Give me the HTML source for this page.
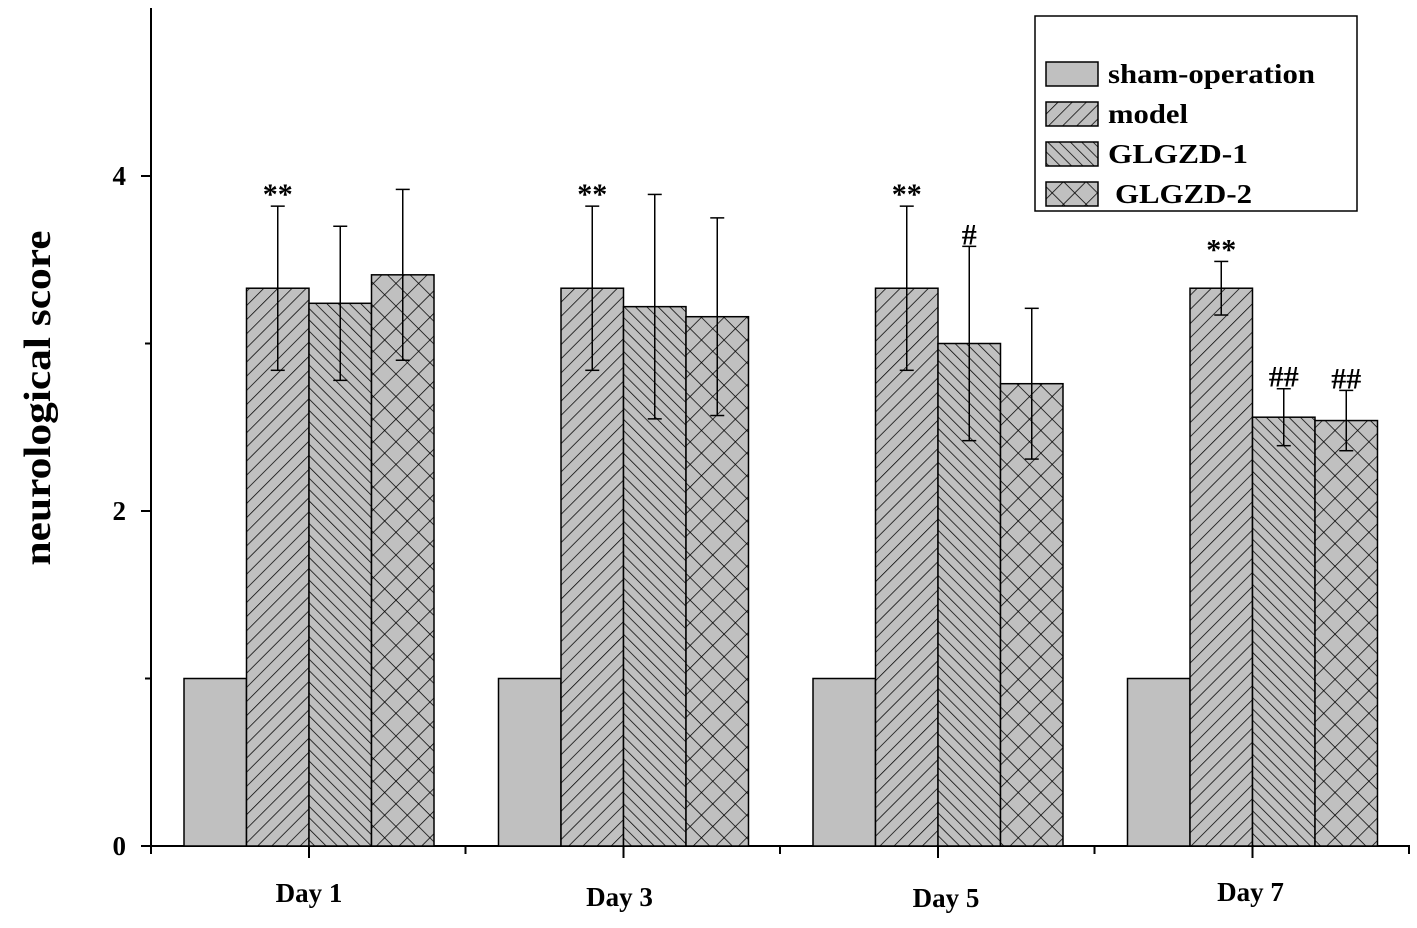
<!DOCTYPE html>
<html><head><meta charset="utf-8"><style>
body{margin:0;background:#fff;}
svg{display:block;font-family:"Liberation Serif",serif;font-weight:bold;}
</style></head><body>
<svg id="chart" width="1417" height="928">
<defs>
<pattern id="pModel" width="10" height="10" patternUnits="userSpaceOnUse" patternTransform="rotate(45)"><rect width="10" height="10" fill="#c0c0c0"/><line x1="0" y1="0" x2="0" y2="10" stroke="#000" stroke-width="1.5"/></pattern>
<pattern id="pG1" width="8" height="8" patternUnits="userSpaceOnUse" patternTransform="rotate(-45)"><rect width="8" height="8" fill="#c0c0c0"/><line x1="0" y1="0" x2="0" y2="8" stroke="#000" stroke-width="1.5"/></pattern>
<pattern id="pG2" width="16" height="16" patternUnits="userSpaceOnUse" patternTransform="rotate(45)"><rect width="16" height="16" fill="#c0c0c0"/><line x1="0" y1="0" x2="0" y2="16" stroke="#000" stroke-width="1.5"/><line x1="0" y1="0" x2="16" y2="0" stroke="#000" stroke-width="1.5"/></pattern>
</defs>
<g id="axes"></g>
<g id="bars"></g>
<g id="legend">
<rect x="1035" y="16" width="322" height="195" fill="#fff" stroke="#000" stroke-width="1.5"/>
</g>
</svg>
<script>
const categories=["Day 1","Day 3","Day 5","Day 7"];
const series=["sham-operation","model","GLGZD-1","GLGZD-2"];
const shamVals=[1,1,1,1];
const modelVals=[3.33,3.33,3.33,3.33];
const g1Vals=[3.24,3.22,3.0,2.56];
const g2Vals=[3.41,3.16,2.76,2.54];
const shamErr=[0,0,0,0];
const modelErr=[0.49,0.49,0.49,0.16];
const g1Err=[0.46,0.67,0.58,0.17];
const g2Err=[0.51,0.59,0.45,0.18];
const modelMarks=["**","**","**","**"];
const g1Marks=["","","#","##"];
const g2Marks=["","","","##"];
const yTicks=[0,2,4];
const yMinor=[1,3];

const NS="http://www.w3.org/2000/svg";
const y0=846,yScale=167.5;
const yPos=v=>y0-v*yScale;
const groupStart=i=>184+i*314.5;
const bw=62.5;
function mk(tag,attrs,parent,name){const e=document.createElementNS(NS,tag);for(const k in attrs)e.setAttribute(k,attrs[k]);


parent.appendChild(e);return e;}
const ax=document.getElementById('axes');
mk('line',{x1:151,y1:8,x2:151,y2:847,stroke:'#000','stroke-width':2},ax,'y-axis');
mk('line',{x1:150,y1:846,x2:1410,y2:846,stroke:'#000','stroke-width':2},ax,'x-axis');
yTicks.forEach(v=>{mk('line',{x1:141,y1:yPos(v),x2:151,y2:yPos(v),stroke:'#000','stroke-width':2},ax,'y-tick');
const t=mk('text',{x:126,y:yPos(v)+9,'text-anchor':'end','font-size':27},ax,'y-tick-label');t.textContent=v;});
yMinor.forEach(v=>mk('line',{x1:145,y1:yPos(v),x2:151,y2:yPos(v),stroke:'#000','stroke-width':2},ax,'y-minor-tick'));
const yt=mk('text',{x:50,y:398,'text-anchor':'middle','font-size':38,textLength:335,lengthAdjust:'spacingAndGlyphs',transform:'rotate(-90 50 398)'},ax,'y-axis-title');yt.textContent='neurological score';
for(let i=0;i<=4;i++){const x=groupStart(i)-33;mk('line',{x1:x,y1:846,x2:x,y2:854,stroke:'#000','stroke-width':2},ax,'x-minor-tick');}
const labOff=[0,-4,8,-2];const labY=[902,906,907,901];
categories.forEach((c,i)=>{const cx=groupStart(i)+bw*2;
mk('line',{x1:cx,y1:846,x2:cx,y2:858,stroke:'#000','stroke-width':2},ax,'x-tick');
const t=mk('text',{x:cx+labOff[i],y:labY[i],'text-anchor':'middle','font-size':27},ax,'x-tick-label');t.textContent=c;});
const bg=document.getElementById('bars');
const all=[shamVals,modelVals,g1Vals,g2Vals],errs=[shamErr,modelErr,g1Err,g2Err],marks=[null,modelMarks,g1Marks,g2Marks];
const fills=['#c0c0c0','url(#pModel)','url(#pG1)','url(#pG2)'];
categories.forEach((c,i)=>{all.forEach((arr,s)=>{const x=groupStart(i)+s*bw,v=arr[i];
mk('rect',{x:x,y:yPos(v),width:bw,height:yPos(0)-yPos(v),fill:fills[s],stroke:'#000','stroke-width':1.5},bg,'bar-'+series[s]+'-'+(i+1));
const e=errs[s][i];if(e>0){const cx=x+bw/2;
mk('line',{x1:cx,y1:yPos(v+e),x2:cx,y2:yPos(v-e),stroke:'#000','stroke-width':1.5},bg,'error-bar');
mk('line',{x1:cx-7,y1:yPos(v+e),x2:cx+7,y2:yPos(v+e),stroke:'#000','stroke-width':1.5},bg,'error-cap');
mk('line',{x1:cx-7,y1:yPos(v-e),x2:cx+7,y2:yPos(v-e),stroke:'#000','stroke-width':1.5},bg,'error-cap');}
if(marks[s]&&marks[s][i]){const t=mk('text',{x:x+bw/2,y:yPos(v+e)-2,'text-anchor':'middle','font-size':30},bg,'significance-mark');t.textContent=marks[s][i];}
});});
const lg=document.getElementById('legend');
const lgLen=[207,80,140,137];
series.forEach((s,k)=>{const y=62+k*40;
mk('rect',{x:1046,y:y,width:52,height:24,fill:fills[k],stroke:'#000','stroke-width':1.5},lg,'legend-swatch');
const t=mk('text',{x:k==3?1115:1108,y:y+21,'font-size':27,textLength:lgLen[k],lengthAdjust:'spacingAndGlyphs'},lg,'legend-entry');t.textContent=s;});
</script>
</body></html>
